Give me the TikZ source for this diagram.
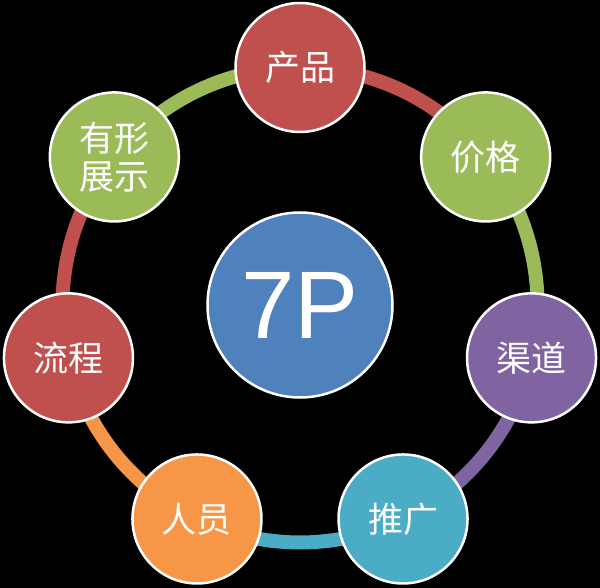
\documentclass[tikz,border=0pt]{standalone}
\usepackage{fontspec}
\setmainfont{Liberation Sans}
\newfontfamily\cjk{Noto Sans CJK SC}
\usepackage{tikz}
\definecolor{rouge}{HTML}{C0504D}
\definecolor{vert}{HTML}{9BBB59}
\definecolor{violet}{HTML}{8064A2}
\definecolor{turquoise}{HTML}{4BACC6}
\definecolor{orange}{HTML}{F79646}
\definecolor{bleu}{HTML}{4F81BD}
\tikzset{
	petal/.style={circle,draw=white,line width=2.5pt,minimum size=129pt,inner sep=0pt,
		text=white,align=center,font=\cjk\fontsize{35}{38}\selectfont},
	hub/.style={circle,draw=white,line width=2.5pt,minimum size=185pt,inner sep=0pt,
		fill=bleu,text=white,font=\fontsize{96}{100}\selectfont},
	ring/.style={line width=14pt}
}

\begin{document}
\begin{tikzpicture}[x=1pt,y=1pt]
	\fill[black] (0,0) rectangle (600,-588);
	\begin{scope}[shift={(300,-305)}]
	\def\R{237.5}
	
	%Positions sur l'anneau
	\coordinate (Produit) at (90:\R);
	\coordinate (Prix) at (38.57:\R);
	\coordinate (Canal) at (-12.86:\R);
	\coordinate (Promo) at (-64.29:\R);
	\coordinate (Gens) at (-115.71:\R);
	\coordinate (Process) at (-167.14:\R);
	\coordinate (Preuve) at (141.43:\R);
	
	%Anneau
	\draw[ring,rouge] (Produit) arc[start angle=90,end angle=38.57,radius=\R];
	\draw[ring,vert] (Prix) arc[start angle=38.57,end angle=-12.86,radius=\R];
	\draw[ring,violet] (Canal) arc[start angle=-12.86,end angle=-64.29,radius=\R];
	\draw[ring,turquoise] (Promo) arc[start angle=-64.29,end angle=-115.71,radius=\R];
	\draw[ring,orange] (Gens) arc[start angle=-115.71,end angle=-167.14,radius=\R];
	\draw[ring,rouge] (Process) arc[start angle=-167.14,end angle=-218.57,radius=\R];
	\draw[ring,vert] (Preuve) arc[start angle=141.43,end angle=90,radius=\R];
	
	%Cercles
	\node[petal,fill=rouge] (nProduit) at (Produit) {产品};
	\node[petal,fill=vert] (nPrix) at (Prix) {价格};
	\node[petal,fill=violet] (nCanal) at (Canal) {渠道};
	\node[petal,fill=turquoise] (nPromo) at (Promo) {推广};
	\node[petal,fill=orange] (nGens) at (Gens) {人员};
	\node[petal,fill=rouge] (nProcess) at (Process) {流程};
	\node[petal,fill=vert] (nPreuve) at (Preuve) {有形\\展示};
	
	\node[hub] (centre) at (0,0) {7P};
	\end{scope}
\end{tikzpicture}
\end{document}
